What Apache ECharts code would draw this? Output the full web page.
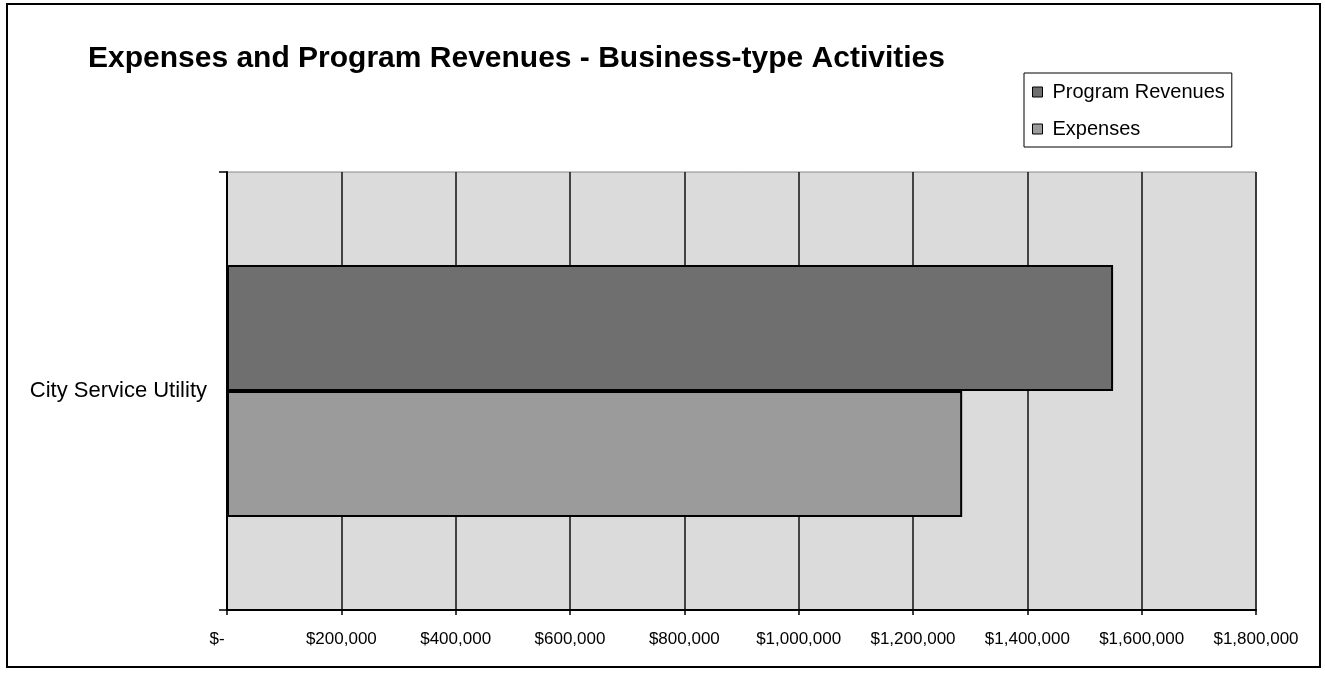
<!DOCTYPE html>
<html>
<head>
<meta charset="utf-8">
<script src="https://cdn.jsdelivr.net/npm/echarts@6/dist/echarts.min.js"></script>
<style>
html,body{margin:0;padding:0;background:#fff;}
#chart{width:1325px;height:673px;}
</style>
</head>
<body>
<div id="chart"></div>
<script>
const titleText = 'Expenses and Program Revenues - Business-type Activities';
const categories = ['City Service Utility'];
const seriesNames = ['Program Revenues', 'Expenses'];
const programRevenues = [1550000];
const expenses = [1286000];
const xTicks = [0, 200000, 400000, 600000, 800000, 1000000, 1200000, 1400000, 1600000, 1800000];

const FONT = '"Liberation Sans", Arial, sans-serif';
const chart = echarts.init(document.getElementById('chart'));

function fmt(v) {
  if (v === 0) return '{z|$-}';
  return '$' + v.toLocaleString('en-US');
}

chart.setOption({
  animation: false,
  backgroundColor: '#ffffff',
  textStyle: { fontFamily: FONT },
  title: {
    text: titleText,
    left: 88,
    top: 44,
    padding: 0,
    textStyle: { fontFamily: FONT, fontSize: 30, fontWeight: 'bold', color: '#000' }
  },
  legend: {
    data: seriesNames,
    orient: 'vertical',
    left: 1024,
    top: 73,
    padding: [9, 7, 8, 8],
    borderColor: '#000',
    borderWidth: 1,
    itemGap: 17,
    itemWidth: 10,
    itemHeight: 10,
    icon: 'rect',
    itemStyle: { borderColor: '#000', borderWidth: 1 },
    textStyle: { fontFamily: FONT, fontSize: 20, color: '#000', padding: [0, 0, 0, 5] }
  },
  grid: {
    left: 227,
    right: 69,
    top: 172,
    bottom: 63,
    show: true,
    backgroundColor: '#dbdbdb',
    borderColor: '#8a8a8a',
    borderWidth: 1,
    containLabel: false
  },
  xAxis: {
    type: 'value',
    min: 0,
    max: 1800000,
    interval: 200000,
    axisLine: { show: true, lineStyle: { color: '#000', width: 2 } },
    axisTick: { show: true, inside: false, length: 5, lineStyle: { color: '#000', width: 1.5 } },
    splitLine: { show: true, lineStyle: { color: '#111', width: 1.5 } },
    axisLabel: {
      margin: 21,
      fontFamily: FONT,
      fontSize: 17,
      color: '#000',
      formatter: fmt,
      rich: { z: { fontFamily: FONT, fontSize: 17, color: '#000', padding: [0, 20, 0, 0] } }
    }
  },
  yAxis: {
    type: 'category',
    data: categories,
    axisLine: { show: true, lineStyle: { color: '#000', width: 2 } },
    axisTick: { show: true, inside: false, length: 8, lineStyle: { color: '#000', width: 1.5 } },
    axisLabel: { margin: 20, fontFamily: FONT, fontSize: 22, color: '#000' },
    splitLine: { show: false }
  },
  series: [
    {
      name: seriesNames[0],
      type: 'bar',
      data: programRevenues,
      barWidth: 126,
      barGap: '0%',
      itemStyle: { color: '#6f6f6f', borderColor: '#000', borderWidth: 2 }
    },
    {
      name: seriesNames[1],
      type: 'bar',
      data: expenses,
      barWidth: 126,
      barGap: '0%',
      itemStyle: { color: '#9b9b9b', borderColor: '#000', borderWidth: 2 }
    }
  ],
  graphic: [
    {
      type: 'rect',
      shape: { x: 7, y: 4, width: 1313, height: 663 },
      style: { fill: 'none', stroke: '#000', lineWidth: 2 },
      silent: true,
      z: 100
    }
  ]
});
</script>
</body>
</html>
